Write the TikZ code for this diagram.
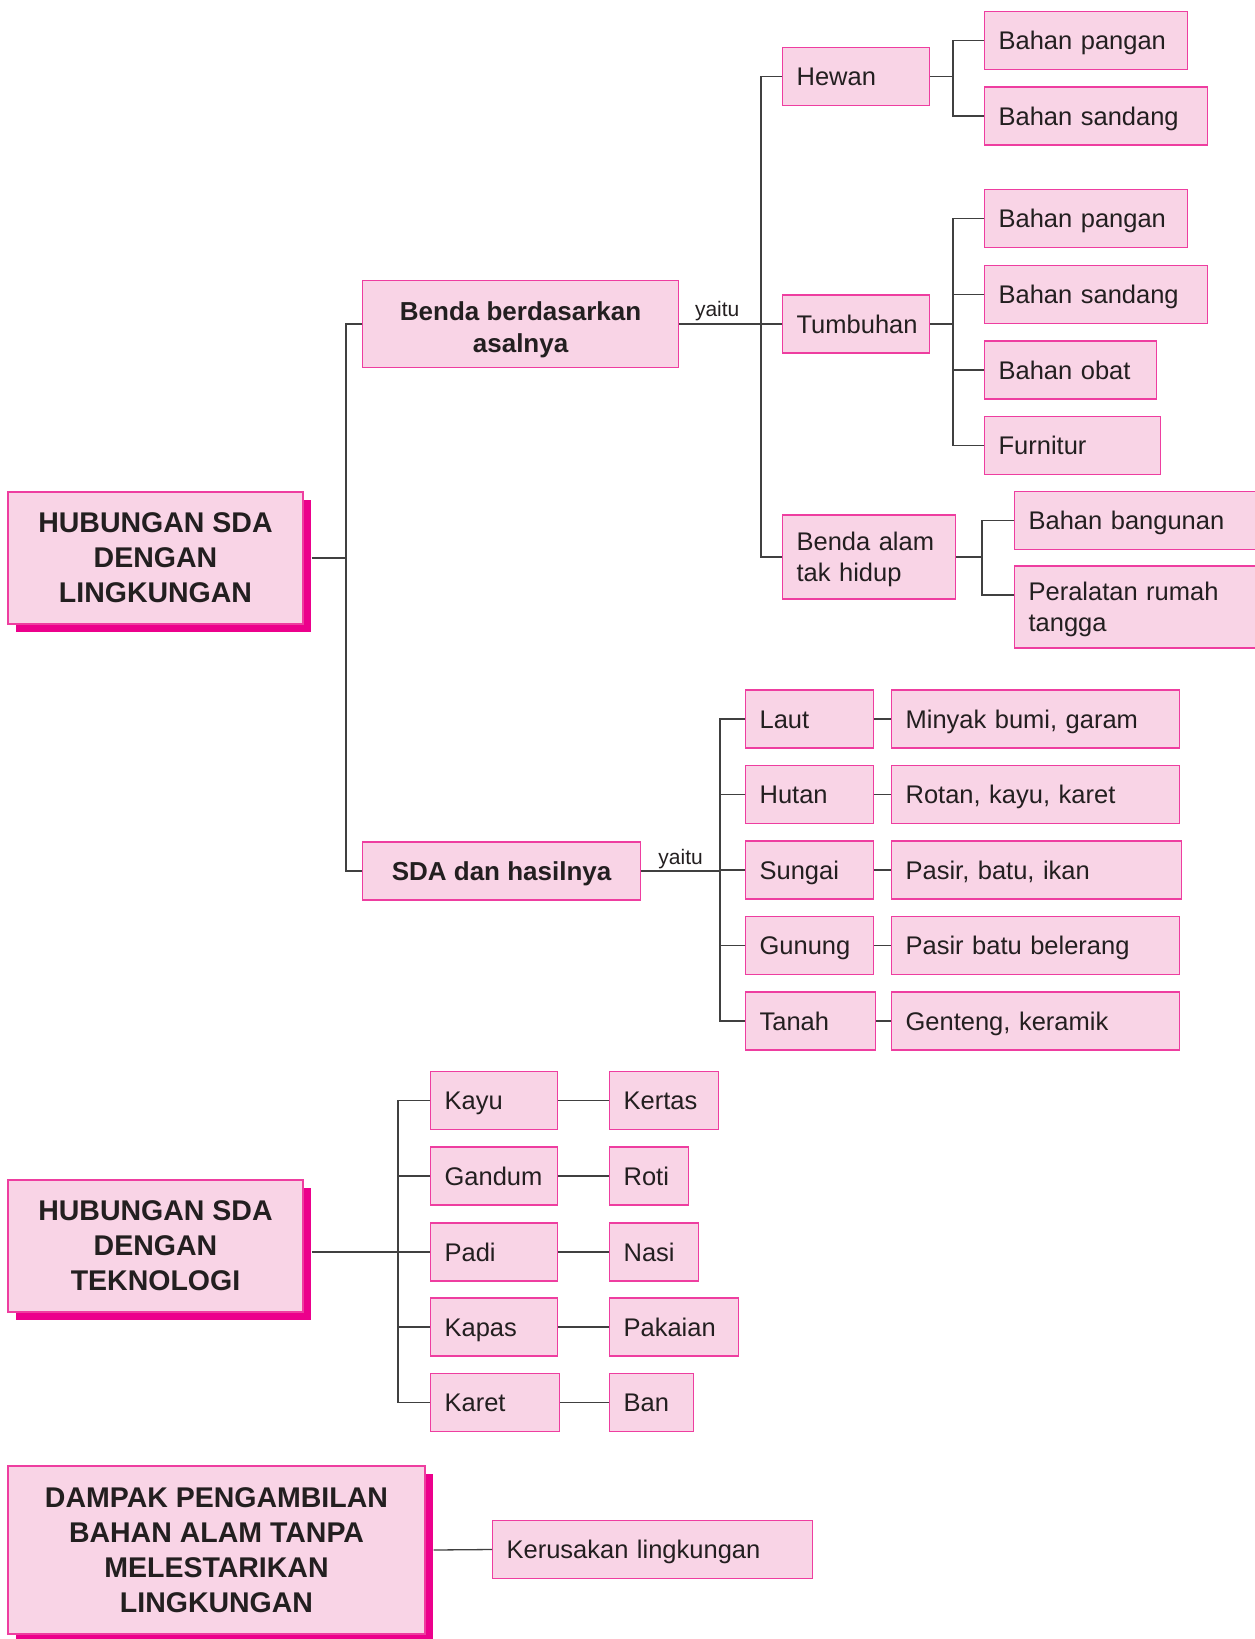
\documentclass[tikz,border=0pt]{standalone}
\usepackage{fontspec}
\setmainfont{Liberation Sans}
\usetikzlibrary{shadows}

\definecolor{isi}{RGB}{249,212,230}
\definecolor{tepi}{RGB}{238,62,160}
\definecolor{bayang}{RGB}{236,0,140}
\definecolor{abu}{RGB}{64,64,64}
\definecolor{tinta}{RGB}{35,31,32}

\tikzset{
  kotak/.style={draw=tepi, fill=isi, line width=1.2pt, anchor=west, inner xsep=14pt, inner ysep=0pt,
    minimum height=58pt, text width=#1, align=left, text=tinta, font=\fontsize{25.5}{31}\selectfont,
    execute at begin node={\rule[-6pt]{0pt}{30pt}}},
  induk/.style={draw=tepi, fill=isi, line width=1.2pt, anchor=west, inner sep=0pt, align=center,
    text=tinta, font=\fontsize{26}{32}\selectfont\bfseries,
    execute at begin node={\rule[-6pt]{0pt}{30pt}}},
  judul/.style={draw=tepi, fill=isi, line width=1.2pt, inner sep=0pt, align=center, text=tinta,
    font=\fontsize{28.5}{35}\selectfont\bfseries,
    drop shadow={shadow xshift=8pt, shadow yshift=-8pt, fill=bayang, opacity=1}},
  hubung/.style={draw=abu, line width=1.3pt},
  kecil/.style={font=\fontsize{21}{25}\selectfont, text=tinta, inner sep=2pt}
}

\begin{document}
\begin{tikzpicture}[x=1pt, y=-1pt]
	\useasboundingbox (0,0) rectangle (1254,1639);
	
	% hubungan dengan lingkungan
	\node[judul, minimum width=295, minimum height=132] (lingkungan) at (155.5,558) {HUBUNGAN SDA\\DENGAN\\LINGKUNGAN};
	\node[induk, minimum width=316, minimum height=87] (benda) at (362,324) {\rule{0pt}{30pt}Benda berdasarkan\\asalnya};
	\node[induk, minimum width=278, minimum height=58] (sda) at (362,871) {SDA dan hasilnya};
	
	\node[kotak=119] (hewan) at (782,76.5) {Hewan};
	\node[kotak=119] (tumbuhan) at (782,324) {Tumbuhan};
	\node[kotak=145, minimum height=84] (mati) at (782,557) {Benda alam\\tak hidup};
	
	\node[kotak=175] (pangan1) at (984,40.5) {Bahan pangan};
	\node[kotak=195] (sandang1) at (984,116) {Bahan sandang};
	\node[kotak=175] (pangan2) at (984,218.5) {Bahan pangan};
	\node[kotak=195] (sandang2) at (984,294.5) {Bahan sandang};
	\node[kotak=144] (obat) at (984,370) {Bahan obat};
	\node[kotak=148] (furnitur) at (984,445.5) {Furnitur};
	\node[kotak=214] (bangunan) at (1014,520.5) {Bahan bangunan};
	\node[kotak=214, minimum height=82] (peralatan) at (1014,607) {Peralatan rumah\\tangga};
	
	\node[kotak=100] (laut) at (745,719) {Laut};
	\node[kotak=100] (hutan) at (745,794.5) {Hutan};
	\node[kotak=100] (sungai) at (745,870) {Sungai};
	\node[kotak=100] (gunung) at (745,945.5) {Gunung};
	\node[kotak=102] (tanah) at (745,1021) {Tanah};
	
	\node[kotak=260] (minyak) at (891,719) {Minyak bumi, garam};
	\node[kotak=260] (rotan) at (891,794.5) {Rotan, kayu, karet};
	\node[kotak=262] (pasir) at (891,870) {Pasir, batu, ikan};
	\node[kotak=260] (belerang) at (891,945.5) {Pasir batu belerang};
	\node[kotak=260] (genteng) at (891,1021) {Genteng, keramik};
	
	\coordinate (t1) at (346,0);
	\coordinate (t2) at (761,0);
	\coordinate (t3) at (953,0);
	\coordinate (t4) at (982,0);
	\coordinate (t5) at (720,0);
	
	\draw[hubung] ([xshift=8pt]lingkungan.east) -- (lingkungan.east -| t1);
	\draw[hubung] (benda.west) -- (benda.west -| t1) -- (sda.west -| t1) -- (sda.west);
	
	\draw[hubung] (benda.east) -- (tumbuhan.west) node[kecil, pos=0.37, above] {yaitu};
	\draw[hubung] (hewan.west) -- (hewan.west -| t2) -- (mati.west -| t2) -- (mati.west);
	
	\draw[hubung] (hewan.east) -- (hewan.east -| t3);
	\draw[hubung] (pangan1.west) -- (pangan1.west -| t3) -- (sandang1.west -| t3) -- (sandang1.west);
	
	\draw[hubung] (tumbuhan.east) -- (tumbuhan.east -| t3);
	\draw[hubung] (pangan2.west) -- (pangan2.west -| t3) -- (furnitur.west -| t3) -- (furnitur.west);
	\draw[hubung] (sandang2.west) -- (sandang2.west -| t3);
	\draw[hubung] (obat.west) -- (obat.west -| t3);
	
	\draw[hubung] (mati.east) -- (mati.east -| t4);
	\draw[hubung] (bangunan.west) -- (bangunan.west -| t4) -- ([yshift=12pt]peralatan.west -| t4) -- ([yshift=12pt]peralatan.west);
	
	\draw[hubung] (sda.east) -- (sda.east -| t5) node[kecil, midway, above] {yaitu};
	\draw[hubung] (laut.west) -- (laut.west -| t5) -- (tanah.west -| t5) -- (tanah.west);
	\draw[hubung] (hutan.west) -- (hutan.west -| t5);
	\draw[hubung] (sungai.west) -- (sungai.west -| t5);
	\draw[hubung] (gunung.west) -- (gunung.west -| t5);
	
	\draw[hubung] (laut.east) -- (minyak.west);
	\draw[hubung] (hutan.east) -- (rotan.west);
	\draw[hubung] (sungai.east) -- (pasir.west);
	\draw[hubung] (gunung.east) -- (belerang.west);
	\draw[hubung] (tanah.east) -- (genteng.west);
	
	% hubungan dengan teknologi
	\node[judul, minimum width=295, minimum height=132] (teknologi) at (155.5,1246) {HUBUNGAN SDA\\DENGAN\\TEKNOLOGI};
	
	\node[kotak=99] (kayu) at (430,1100.5) {Kayu};
	\node[kotak=99] (gandum) at (430,1176) {Gandum};
	\node[kotak=99] (padi) at (430,1252) {Padi};
	\node[kotak=99] (kapas) at (430,1327) {Kapas};
	\node[kotak=101] (karet) at (430,1402.5) {Karet};
	
	\node[kotak=81] (kertas) at (609,1100.5) {Kertas};
	\node[kotak=51] (roti) at (609,1176) {Roti};
	\node[kotak=61] (nasi) at (609,1252) {Nasi};
	\node[kotak=101] (pakaian) at (609,1327) {Pakaian};
	\node[kotak=56] (ban) at (609,1402.5) {Ban};
	
	\coordinate (t6) at (398,0);
	\draw[hubung] ([xshift=8pt]teknologi.east |- padi.west) -- (padi.west);
	\draw[hubung] (kayu.west) -- (kayu.west -| t6) -- (karet.west -| t6) -- (karet.west);
	\draw[hubung] (gandum.west) -- (gandum.west -| t6);
	\draw[hubung] (kapas.west) -- (kapas.west -| t6);
	
	\draw[hubung] (kayu.east) -- (kertas.west);
	\draw[hubung] (gandum.east) -- (roti.west);
	\draw[hubung] (padi.east) -- (nasi.west);
	\draw[hubung] (kapas.east) -- (pakaian.west);
	\draw[hubung] (karet.east) -- (ban.west);
	
	% dampak
	\node[judul, minimum width=417, minimum height=168] (dampak) at (216.5,1550) {DAMPAK PENGAMBILAN\\BAHAN ALAM TANPA\\MELESTARIKAN\\LINGKUNGAN};
	\node[kotak=292] (kerusakan) at (492,1549.5) {Kerusakan lingkungan};
	\draw[hubung] ([xshift=8pt]dampak.east) -- (kerusakan.west);
\end{tikzpicture}
\end{document}
